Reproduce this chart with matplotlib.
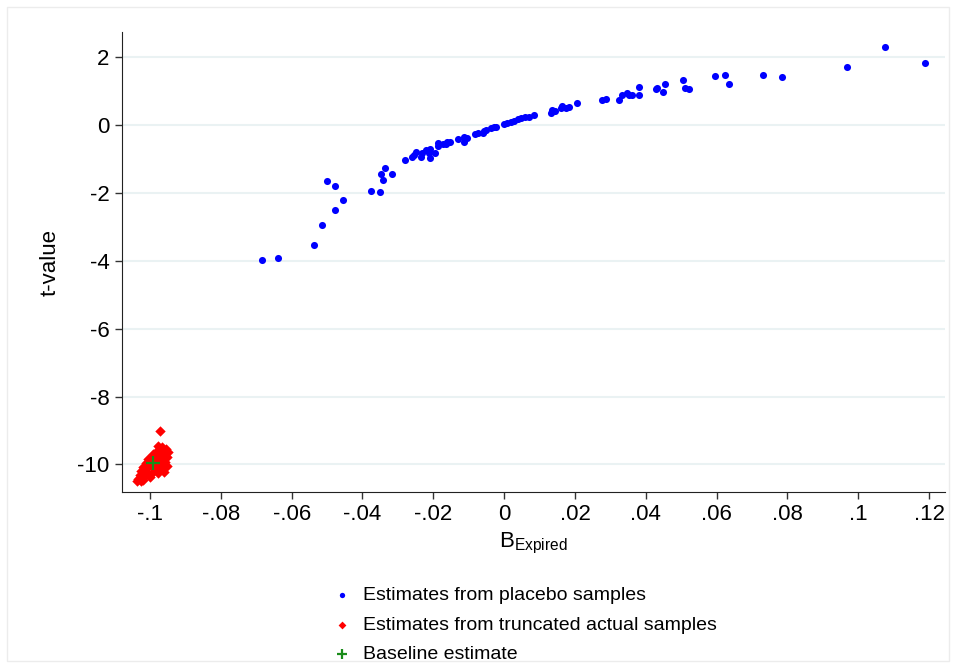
import matplotlib.pyplot as plt
from matplotlib.patches import Rectangle

plt.rcParams['font.family'] = ['Liberation Sans', 'DejaVu Sans']
plt.rcParams['mathtext.fontset'] = 'custom'
plt.rcParams['mathtext.rm'] = 'Liberation Sans'
plt.rcParams['axes.unicode_minus'] = False

# Estimates from placebo samples (coef, t-value)
placebo_b = [-0.0685, -0.0639, -0.0538, -0.0514, -0.0477, -0.0454, -0.0501, -0.0478,
             -0.0375, -0.0350, -0.0349, -0.0337, -0.0341, -0.0316,
             -0.0279, -0.0261, -0.0255, -0.0249, -0.0236, -0.0232, -0.0221, -0.0209,
             -0.0208, -0.0211, -0.0194, -0.0188, -0.0186, -0.0174, -0.0164, -0.0160,
             -0.0153, -0.0131, -0.0114, -0.0112, -0.0106, -0.0082, -0.0074, -0.0061,
             -0.0056, -0.0052, -0.0038, -0.0028, -0.0023, 0.0000, 0.0009, 0.0019,
             0.0028, 0.0038, 0.0047, 0.0059, 0.0070, 0.0083, 0.0131, 0.0136, 0.0144,
             0.0160, 0.0164, 0.0176, 0.0183, 0.0207, 0.0277, 0.0288, 0.0324, 0.0332,
             0.0347, 0.0352, 0.0360, 0.0380, 0.0380, 0.0430, 0.0432, 0.0448, 0.0453,
             0.0505, 0.0510, 0.0521, 0.0596, 0.0623, 0.0635, 0.0730, 0.0785, 0.0969,
             0.1076, 0.1189]
placebo_t = [-3.97, -3.91, -3.53, -2.95, -2.51, -2.21, -1.66, -1.79,
             -1.95, -1.98, -1.43, -1.26, -1.62, -1.45,
             -1.04, -0.93, -0.87, -0.79, -0.93, -0.83, -0.74, -0.70,
             -0.96, -0.83, -0.83, -0.62, -0.52, -0.56, -0.55, -0.49,
             -0.51, -0.41, -0.36, -0.49, -0.39, -0.27, -0.22, -0.24,
             -0.18, -0.15, -0.10, -0.07, -0.05, 0.02, 0.07, 0.10,
             0.13, 0.17, 0.20, 0.23, 0.25, 0.31, 0.36, 0.44, 0.41,
             0.49, 0.56, 0.49, 0.52, 0.64, 0.74, 0.76, 0.74, 0.90,
             0.95, 0.88, 0.88, 1.11, 0.90, 1.05, 1.10, 0.96, 1.21,
             1.32, 1.08, 1.05, 1.44, 1.48, 1.22, 1.48, 1.41, 1.70,
             2.30, 1.82]

# Estimates from truncated actual samples
trunc_b = [-0.0972, -0.0977, -0.0965, -0.0956, -0.0948, -0.0960, -0.0972, -0.0984,
           -0.0991, -0.0978, -0.0965, -0.0953, -0.0995, -0.1005, -0.0986, -0.0972,
           -0.0958, -0.1012, -0.1000, -0.0981, -0.0967, -0.0953, -0.1019, -0.1005,
           -0.0988, -0.0972, -0.0960, -0.1025, -0.1012, -0.0995, -0.0978, -0.1028,
           -0.1014, -0.1000, -0.1033, -0.1019, -0.1038, -0.1025]
trunc_t = [-9.00, -9.46, -9.48, -9.53, -9.62, -9.65, -9.59, -9.62,
           -9.69, -9.75, -9.77, -9.79, -9.79, -9.85, -9.87, -9.89,
           -9.92, -9.95, -9.97, -9.99, -10.01, -10.04, -10.06, -10.08,
           -10.11, -10.16, -10.21, -10.18, -10.21, -10.24, -10.26, -10.31,
           -10.34, -10.36, -10.44, -10.46, -10.49, -10.49]

# Baseline estimate
base_b = [-0.0991]
base_t = [-9.95]

x_ticks = [-0.1, -0.08, -0.06, -0.04, -0.02, 0, 0.02, 0.04, 0.06, 0.08, 0.1, 0.12]
x_labels = ['-.1', '-.08', '-.06', '-.04', '-.02', '0', '.02', '.04', '.06', '.08', '.1', '.12']
y_ticks = [2, 0, -2, -4, -6, -8, -10]

fig = plt.figure(figsize=(9.56, 6.68), dpi=100)
fig.patches.append(Rectangle((0.007, 0.01), 0.986, 0.98, transform=fig.transFigure,
                             fill=False, edgecolor='#ececec', linewidth=1))
ax = fig.add_axes([0.1276, 0.2635, 0.861, 0.6885])

ax.scatter(placebo_b, placebo_t, s=26, color='#0000ff', marker='o', linewidths=0,
           label='Estimates from placebo samples', zorder=3)
ax.scatter(trunc_b, trunc_t, s=28, color='#ff0000', marker='D', linewidths=0,
           label='Estimates from truncated actual samples', zorder=3)
ax.scatter(base_b, base_t, s=100, color='#1a8c1a', marker='+', linewidths=1.6,
           label='Baseline estimate', zorder=4)

ax.set_xlim(-0.1079, 0.1245)
ax.set_ylim(-10.81, 2.74)
ax.set_xticks(x_ticks)
ax.set_xticklabels(x_labels)
ax.set_yticks(y_ticks)
ax.tick_params(labelsize=16, length=5, width=1, color='#333333', pad=4)
ax.grid(axis='y', color='#eaf2f3', linewidth=1.5, zorder=0)
ax.set_axisbelow(True)
for s in ['top', 'right']:
    ax.spines[s].set_visible(False)
for s in ['left', 'bottom']:
    ax.spines[s].set_color('#222222')

ax.set_ylabel('t-value', fontsize=16, labelpad=12)
ax.set_xlabel(r'B$_{\mathrm{Expired}}$', fontsize=16, labelpad=4)

fig.legend(loc='upper left', bbox_to_anchor=(0.348, 0.122), frameon=False, fontsize=14,
           handlelength=1.0, handletextpad=0.55, labelspacing=0.62, markerscale=0.75,
           borderpad=0, borderaxespad=0)

fig.savefig('out.png', dpi=100)
